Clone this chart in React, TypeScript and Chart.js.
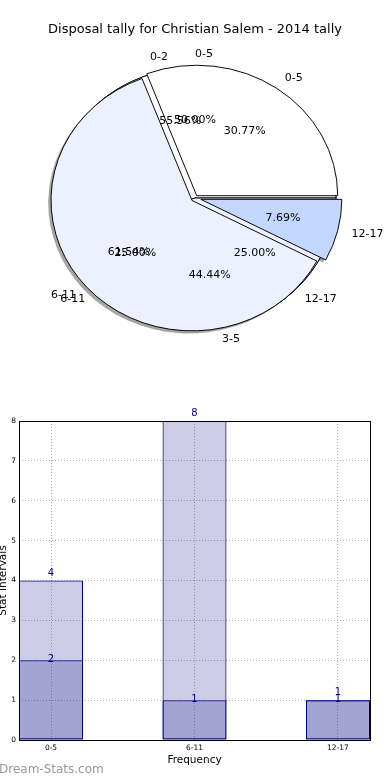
import React, { useEffect, useRef } from 'react';
import { Chart, registerables } from 'chart.js';

Chart.register(...registerables);

// ---------- data ----------
const chartTitle = 'Disposal tally for Christian Salem - 2014 tally';

const pie1Labels = ['0-5', '6-11', '12-17'];
const pie1Values = [4, 8, 1];
const pie2Labels = ['0-5', '6-11', '12-17'];
const pie2Values = [2, 1, 1];
const pie3Labels = ['0-2', '3-5'];
const pie3Values = [5, 4];

const barCategories = ['0-5', '6-11', '12-17'];
const barTotals = [4, 8, 1];
const barSubset = [2, 1, 1];
const yMin = 0;
const yMax = 8;
const xAxisTitle = 'Frequency';
const yAxisTitle = 'Stat Intervals';
const watermark = 'Dream-Stats.com';

// ---------- styles ----------
const FONT = 'DejaVu Sans';
Chart.defaults.font.family = FONT;

const PIE_RX = 141;
const PIE_K = 0.925;
const SLICE_COLORS = ['#ffffff', '#ebf1fe', '#c4d8ff'];
const PIE1_EXPLODE = [3, 4, 6];
const SHADOW = 'rgba(77,77,77,0.5)';
const SHADOW_DX = -2.8;
const SHADOW_DY = 2.6;

const BAR_WIDTH = 0.446;
const NAVY = '#000080';
const BAR_FILL = 'rgba(0,0,128,0.2)';

function pieCenter(chart: any) {
  const a = chart.chartArea;
  return { cx: (a.left + a.right) / 2, cy: (a.top + a.bottom) / 2 };
}
function applyEllipse(ctx: CanvasRenderingContext2D, cx: number, cy: number) {
  ctx.translate(cx, cy);
  ctx.scale(1, -PIE_K);
  ctx.translate(-cx, -cy);
}

const pieOverlayPlugin = {
  id: 'pieOverlay',
  afterDatasetsUpdate(chart: any) {
    const { cx, cy } = pieCenter(chart);
    chart.data.datasets.forEach((ds: any, i: number) => {
      const meta = chart.getDatasetMeta(i);
      meta.data.forEach((arc: any, j: number) => {
        const ex = ds.explode ? ds.explode[j] || 0 : 0;
        const mid = (arc.startAngle + arc.endAngle) / 2;
        arc.innerRadius = 0;
        arc.outerRadius = PIE_RX;
        arc.x = cx + Math.cos(mid) * ex;
        arc.y = cy + Math.sin(mid) * ex;
      });
    });
  },
  beforeDatasetsDraw(chart: any) {
    const ctx = chart.ctx as CanvasRenderingContext2D;
    const { cx, cy } = pieCenter(chart);
    ctx.save();
    ctx.translate(SHADOW_DX, SHADOW_DY);
    applyEllipse(ctx, cx, cy);
    for (let i = chart.data.datasets.length - 1; i >= 0; i--) {
      chart.getDatasetMeta(i).data.forEach((arc: any) => {
        const orig = arc.options;
        arc.options = { ...orig, backgroundColor: SHADOW, borderColor: SHADOW, borderWidth: 0 };
        arc.draw(ctx);
        arc.options = orig;
      });
    }
    ctx.restore();
    ctx.save();
    applyEllipse(ctx, cx, cy);
  },
  afterDatasetsDraw(chart: any) {
    chart.ctx.restore();
  },
  afterDraw(chart: any) {
    const ctx = chart.ctx as CanvasRenderingContext2D;
    const { cy } = pieCenter(chart);
    ctx.save();
    ctx.font = `11px "${FONT}"`;
    ctx.fillStyle = '#000';
    ctx.textBaseline = 'middle';
    chart.data.datasets.forEach((ds: any, i: number) => {
      const meta = chart.getDatasetMeta(i);
      const total = ds.data.reduce((a: number, b: number) => a + b, 0);
      meta.data.forEach((arc: any, j: number) => {
        const mid = (arc.startAngle + arc.endAngle) / 2;
        const c = Math.cos(mid);
        const s = Math.sin(mid);
        const lx = arc.x + 1.1 * PIE_RX * c;
        const ly = arc.y + 1.1 * PIE_RX * s;
        ctx.textAlign = c > 0 ? 'left' : 'right';
        ctx.fillText(ds.sliceLabels[j], lx, cy - PIE_K * (ly - cy));
        const px = arc.x + 0.6 * PIE_RX * c;
        const py = arc.y + 0.6 * PIE_RX * s;
        ctx.textAlign = 'center';
        ctx.fillText(((100 * ds.data[j]) / total).toFixed(2) + '%', px, cy - PIE_K * (py - cy));
      });
    });
    ctx.restore();
  },
};

const barOverlayPlugin = {
  id: 'barOverlay',
  afterDatasetsDraw(chart: any) {
    const ctx = chart.ctx as CanvasRenderingContext2D;
    const a = chart.chartArea;
    ctx.save();
    ctx.strokeStyle = '#000';
    ctx.lineWidth = 1;
    ctx.strokeRect(a.left + 0.5, a.top + 0.5, a.right - a.left, a.bottom - a.top);
    ctx.font = `10px "${FONT}"`;
    ctx.fillStyle = NAVY;
    ctx.textAlign = 'center';
    ctx.textBaseline = 'alphabetic';
    chart.data.datasets.forEach((ds: any, i: number) => {
      const meta = chart.getDatasetMeta(i);
      meta.data.forEach((bar: any, j: number) => {
        ctx.fillText(String(ds.data[j].y), bar.x, bar.y + ds.labelDy);
      });
    });
    ctx.restore();
  },
  afterDraw(chart: any) {
    const ctx = chart.ctx as CanvasRenderingContext2D;
    ctx.save();
    ctx.font = `12px "${FONT}"`;
    ctx.fillStyle = '#999999';
    ctx.textAlign = 'left';
    ctx.textBaseline = 'middle';
    ctx.fillText(watermark, -1, chart.height - 10);
    ctx.restore();
  },
};

function pieConfig(): any {
  const common = {
    borderWidth: 1,
    borderColor: '#000',
    borderAlign: 'center',
    borderJoinStyle: 'miter',
    clip: false,
  };
  return {
    type: 'pie',
    data: {
      labels: pie1Labels,
      datasets: [
        { ...common, data: pie1Values, sliceLabels: pie1Labels, backgroundColor: SLICE_COLORS, explode: PIE1_EXPLODE },
        { ...common, data: pie3Values, sliceLabels: pie3Labels, backgroundColor: SLICE_COLORS },
        { ...common, data: pie2Values, sliceLabels: pie2Labels, backgroundColor: SLICE_COLORS },
      ],
    },
    options: {
      responsive: false,
      devicePixelRatio: 1,
      animation: false,
      events: [],
      rotation: 90,
      layout: { padding: { top: 12, bottom: 31.6, left: 0, right: 0 } },
      plugins: {
        legend: { display: false },
        tooltip: { enabled: false },
        title: {
          display: true,
          text: chartTitle,
          color: '#000',
          padding: 10,
          font: { family: FONT, size: 13, weight: 'normal' },
        },
      },
    },
    plugins: [pieOverlayPlugin],
  };
}

function barConfig(): any {
  const toPoints = (vals: number[]) => vals.map((v, i) => ({ x: i, y: v }));
  const common = {
    backgroundColor: BAR_FILL,
    borderColor: NAVY,
    borderWidth: 1,
    borderSkipped: false,
    grouped: false,
    categoryPercentage: 1,
    barPercentage: BAR_WIDTH,
  };
  const borderOpts = { display: false, dash: [1, 2] };
  return {
    type: 'bar',
    data: {
      datasets: [
        { ...common, label: 'subset', data: toPoints(barSubset), labelDy: 2 },
        { ...common, label: 'total', data: toPoints(barTotals), labelDy: -5 },
      ],
    },
    options: {
      responsive: false,
      devicePixelRatio: 1,
      animation: false,
      events: [],
      layout: { padding: { top: 41, right: 20, left: 0, bottom: 0 } },
      plugins: { legend: { display: false }, tooltip: { enabled: false } },
      scales: {
        x: {
          type: 'linear',
          bounds: 'data',
          min: -BAR_WIDTH / 2,
          max: barCategories.length - 1 + BAR_WIDTH / 2,
          offset: false,
          grid: { color: '#b4b4b4', lineWidth: 1, drawTicks: false, offset: false },
          border: borderOpts,
          afterBuildTicks: (s: any) => {
            s.ticks = barCategories.map((_, i) => ({ value: i }));
          },
          ticks: {
            autoSkip: false,
            maxRotation: 0,
            padding: 4,
            color: '#000',
            font: { family: FONT, size: 7.5 },
            callback: (v: number) => (barCategories[v] !== undefined ? barCategories[v] : ''),
          },
          title: {
            display: true,
            text: xAxisTitle,
            color: '#000',
            font: { family: FONT, size: 10.5 },
            padding: { top: 0, bottom: 13.7 },
          },
          afterFit: (s: any) => {
            s.height = 40;
          },
        },
        y: {
          type: 'linear',
          bounds: 'data',
          min: yMin,
          max: yMax,
          grid: { color: '#b4b4b4', lineWidth: 1, drawTicks: false },
          border: borderOpts,
          ticks: {
            stepSize: 1,
            padding: 3,
            color: '#000',
            font: { family: FONT, size: 7.5 },
          },
          title: {
            display: true,
            text: yAxisTitle,
            color: '#000',
            font: { family: FONT, size: 10.5 },
            padding: { top: -3, bottom: 0 },
          },
          afterFit: (s: any) => {
            s.width = 19;
          },
        },
      },
    },
    plugins: [barOverlayPlugin],
  };
}

export default function App() {
  const pieRef = useRef<HTMLCanvasElement>(null);
  const barRef = useRef<HTMLCanvasElement>(null);
  useEffect(() => {
    const pie = new Chart(pieRef.current as HTMLCanvasElement, pieConfig());
    const bar = new Chart(barRef.current as HTMLCanvasElement, barConfig());
    return () => {
      pie.destroy();
      bar.destroy();
    };
  }, []);
  return (
    <div style={{ position: 'absolute', left: 0, top: 0, width: 390, height: 780, background: '#fff' }}>
      <canvas
        ref={pieRef}
        width={390}
        height={380}
        style={{ position: 'absolute', left: 0, top: 0, width: 390, height: 380, display: 'block' }}
      />
      <canvas
        ref={barRef}
        width={390}
        height={400}
        style={{ position: 'absolute', left: 0, top: 380, width: 390, height: 400, display: 'block' }}
      />
    </div>
  );
}
